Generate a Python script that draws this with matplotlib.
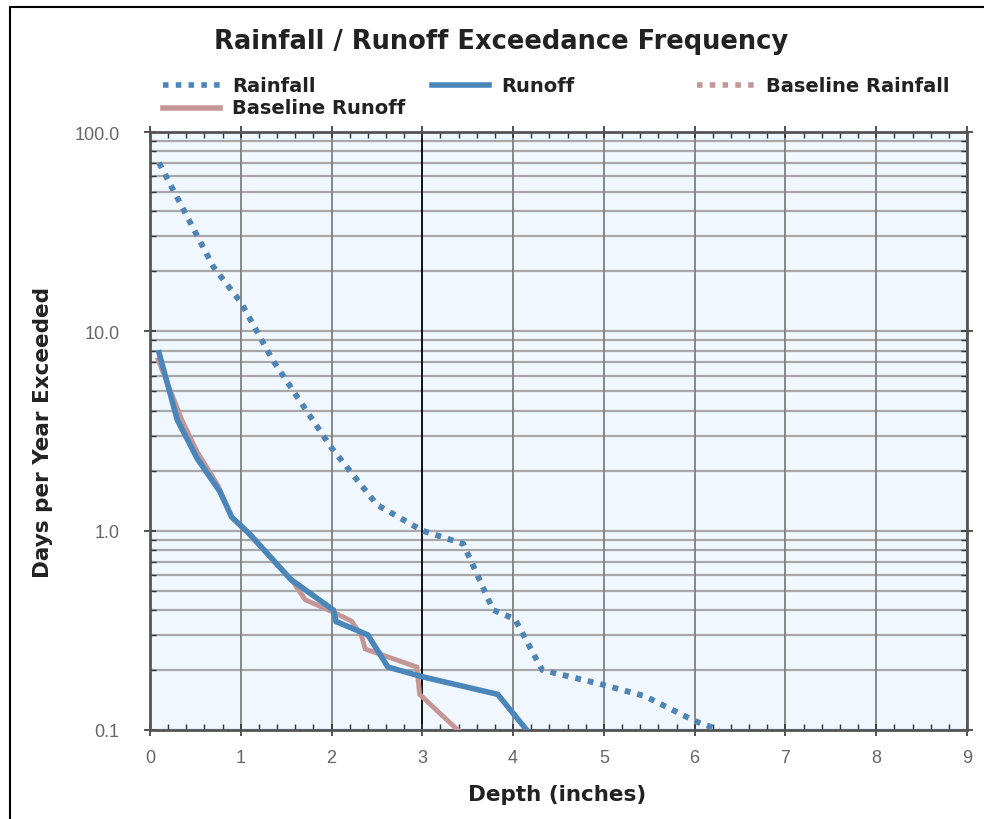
import matplotlib
matplotlib.use("Agg")
import matplotlib.pyplot as plt
from matplotlib.lines import Line2D
from matplotlib.patches import Rectangle
from matplotlib.ticker import FixedLocator, NullFormatter, LogLocator

plt.rcParams['font.family'] = ['Liberation Sans', 'DejaVu Sans']

# ---- data ----
rain_x = [0.1, 0.7, 1.0, 1.35, 1.62, 2.0, 2.5, 3.0, 3.45, 3.78, 4.02, 4.32, 4.96, 5.45, 6.0, 6.27]
rain_y = [70, 21, 14, 7.2, 4.7, 2.6, 1.35, 1.0, 0.86, 0.40, 0.36, 0.20, 0.17, 0.148, 0.111, 0.1]

base_rain_x = rain_x
base_rain_y = rain_y

runoff_x = [0.1, 0.3, 0.52, 0.77, 0.9, 1.1, 1.55, 2.02, 2.05, 2.4, 2.62, 3.0, 3.83, 4.15]
runoff_y = [7.8, 3.6, 2.3, 1.57, 1.17, 0.96, 0.57, 0.4, 0.35, 0.3, 0.207, 0.185, 0.151, 0.1]

base_runoff_x = [0.09, 0.35, 0.52, 0.75, 0.9, 1.1, 1.58, 1.71, 2.02, 2.22, 2.33, 2.37, 2.94, 2.97, 3.39]
base_runoff_y = [7.2, 3.6, 2.48, 1.68, 1.17, 0.95, 0.55, 0.45, 0.39, 0.352, 0.296, 0.255, 0.207, 0.151, 0.1]

x_ticks = [0, 1, 2, 3, 4, 5, 6, 7, 8, 9]
y_ticks = [0.1, 1.0, 10.0, 100.0]
y_tick_labels = ["0.1", "1.0", "10.0", "100.0"]

title = "Rainfall / Runoff Exceedance Frequency"
labels = ["Rainfall", "Runoff", "Baseline Rainfall", "Baseline Runoff"]

BLUE = "#4A86BA"
PINK = "#C49696"
BOLDFONT = ['DejaVu Sans']

W, H = 984, 820
fig = plt.figure(figsize=(W / 100, H / 100), dpi=100)
ax = fig.add_axes([150 / W, 1 - 731 / H, (967 - 150) / W, (731 - 133) / H])
ax.set_facecolor("#F0F7FF")

ax.set_yscale("log")
ax.set_xlim(0, 9)
ax.set_ylim(0.1, 100)

# grid
ax.yaxis.set_major_locator(FixedLocator(y_ticks))
ax.yaxis.set_minor_locator(LogLocator(base=10, subs=range(2, 10), numticks=20))
ax.yaxis.set_minor_formatter(NullFormatter())
ax.set_yticklabels(y_tick_labels)
ax.xaxis.set_major_locator(FixedLocator(x_ticks))
ax.xaxis.set_minor_locator(FixedLocator([i * 0.2 for i in range(46)]))

for yv in [m * 10.0 ** e for e in (-1, 0, 1) for m in range(1, 10)] + [100.0]:
    ax.axhline(yv, color="#A8A8A8", lw=1.6, zorder=1)
for xv in x_ticks:
    ax.axvline(xv, color="black" if xv == 3 else "#808080", lw=1.3, zorder=1)

ax.tick_params(axis="both", which="major", direction="inout", length=8, width=1.2, color="#333333",
               labelcolor="#666666", labelsize=13, top=True, right=True)
ax.tick_params(axis="both", which="minor", direction="in", length=4, width=1.0, color="#333333",
               top=True, right=True)
ax.tick_params(axis="x", which="major", pad=10)
ax.tick_params(axis="y", which="major", pad=18)

for s in ax.spines.values():
    s.set_color("#555555")
    s.set_linewidth(2)

# series
ax.plot(base_rain_x, base_rain_y, color=PINK, lw=4, ls=(0, (1, 1.3)), zorder=3)
ax.plot(rain_x, rain_y, color=BLUE, lw=4, ls=(0, (1, 1.3)), zorder=4)
ax.plot(base_runoff_x, base_runoff_y, color=PINK, lw=3.5, zorder=5, solid_joinstyle="miter")
ax.plot(runoff_x, runoff_y, color=BLUE, lw=4, zorder=6, solid_joinstyle="miter")

ax.set_xlabel("Depth (inches)", fontsize=15.5, color="#222222", family=BOLDFONT, fontweight="bold")
ax.set_ylabel("Days per Year Exceeded", fontsize=15.5, color="#222222", family=BOLDFONT, fontweight="bold")
ax.xaxis.set_label_coords((557 - 150) / (967 - 150), -(785 - 731) / (731 - 133))
ax.yaxis.set_label_coords(-(150 - 53) / (967 - 150), 0.5)

fig.text(501 / W, 1 - 42 / H, title, ha="center", va="center", fontsize=18.5, color="#222222",
         family=BOLDFONT, fontweight="bold")

# legend (manual layout)
legend_items = [
    (labels[0], BLUE, (0, (1, 1.3)), 163, 86),
    (labels[1], BLUE, "-", 432, 86),
    (labels[2], PINK, (0, (1, 1.3)), 697, 86),
    (labels[3], PINK, "-", 163, 109),
]
for lab, col, ls, px, py in legend_items:
    yy = 1 - py / H
    fig.add_artist(Line2D([px / W, (px + 57) / W], [yy, yy], color=col, lw=4, ls=ls))
    fig.text((px + 69) / W, yy, lab, ha="left", va="center", fontsize=14, color="#222222",
             family=BOLDFONT, fontweight="bold")

# border
fig.add_artist(Rectangle((10 / W, -0.05), 1.2, 1 - 8 / H + 0.05, fill=False, ec="black", lw=1.5,
                         transform=fig.transFigure))

fig.savefig("out.png", dpi=100)
